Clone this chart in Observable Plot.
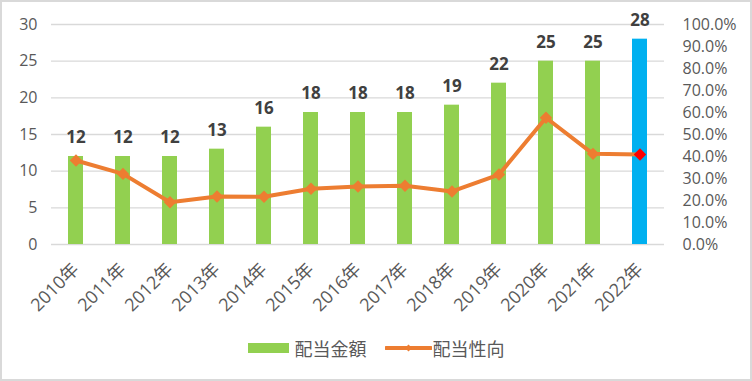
<!DOCTYPE html>
<html>
<head>
<meta charset="utf-8">
<script src="https://cdn.jsdelivr.net/npm/d3@7"></script>
<script src="https://cdn.jsdelivr.net/npm/@observablehq/plot@0.6"></script>
<style>
  html, body { margin: 0; padding: 0; background: #fff; }
  #wrap {
    position: relative; width: 748px; height: 377px;
    border: 2px solid #d9d9d9; background: #fff; overflow: hidden;
    font-family: "Open Sans", "Noto Sans CJK JP", sans-serif;
  }
  #legend {
    position: absolute; left: 0; top: 333px; width: 100%;
    display: flex; justify-content: center; align-items: center;
    font-family: "Noto Sans CJK JP", sans-serif; font-size: 18px; color: #595959;
  }
  .item { display: flex; align-items: center; }
  .sw { width: 41px; height: 10px; background: #92D050; margin-right: 6px; }
</style>
</head>
<body>
<div id="wrap"><div id="chart"></div>
  <div id="legend">
    <div class="item"><div class="sw"></div><span>配当金額</span></div>
    <div class="item" style="margin-left:18px;">
      <svg width="47" height="12" style="margin-right:1px"><line x1="1" y1="6" x2="46" y2="6" stroke="#ED7D31" stroke-width="4" stroke-linecap="round"/><path d="M23.5,2.5 L27,6 L23.5,9.5 L20,6Z" fill="#ED7D31"/></svg>
      <span>配当性向</span>
    </div>
  </div>
</div>
<script>
const years = ["2010年","2011年","2012年","2013年","2014年","2015年","2016年","2017年","2018年","2019年","2020年","2021年","2022年"];
const amounts = [12, 12, 12, 13, 16, 18, 18, 18, 19, 22, 25, 25, 28];
const payoutRatios = [38.2, 32.1, 19.2, 21.8, 21.7, 25.3, 26.4, 26.7, 24.1, 31.8, 57.6, 41.2, 40.9];
const leftTicks = [0, 5, 10, 15, 20, 25, 30];
const rightTicks = [0, 10, 20, 30, 40, 50, 60, 70, 80, 90, 100];
const leftMax = 30, rightMax = 100;

const data = years.map((year, i) => ({year, amount: amounts[i], ratio: payoutRatios[i], last: i === years.length - 1}));
const toLeft = p => p * leftMax / rightMax;

const chart = Plot.plot({
  width: 748, height: 320,
  marginLeft: 49, marginRight: 86, marginTop: 22, marginBottom: 78,
  style: {fontFamily: '"Open Sans", "Noto Sans CJK JP", sans-serif', background: "#fff"},
  x: {type: "band", domain: years, paddingInner: 0.68, paddingOuter: 0.34},
  y: {domain: [0, leftMax]},
  marks: [
    Plot.gridY(leftTicks, {stroke: "#d9d9d9", strokeOpacity: 1, strokeWidth: 1.3}),
    Plot.axisY(leftTicks, {anchor: "left", tickSize: 0, tickPadding: 14, fontSize: 16, color: "#595959", label: null}),
    Plot.axisY(rightTicks.map(toLeft), {anchor: "right", tickSize: 0, tickPadding: 18, fontSize: 16, color: "#595959", label: null,
      tickFormat: d => (d * rightMax / leftMax).toFixed(1) + "%", textAnchor: "start"}),
    Plot.axisX({tickRotate: -45, tickSize: 0, tickPadding: 22, fontSize: 18, color: "#595959", label: null}),
    Plot.barY(data, {x: "year", y: "amount", fill: d => d.last ? "#00B0F0" : "#92D050"}),
    Plot.line(data, {x: "year", y: d => toLeft(d.ratio), stroke: "#ED7D31", strokeWidth: 4, strokeLinejoin: "round"}),
    Plot.dot(data, {x: "year", y: d => toLeft(d.ratio), symbol: "diamond2", r: 5.6, fill: d => d.last ? "#FF0000" : "#ED7D31", stroke: "none"}),
    Plot.text(data, {x: "year", y: "amount", text: d => String(d.amount), dy: -19, fontSize: 17, fontWeight: "bold", fill: "#404040"})
  ]
});
document.getElementById("chart").appendChild(chart);
</script>
</body>
</html>
